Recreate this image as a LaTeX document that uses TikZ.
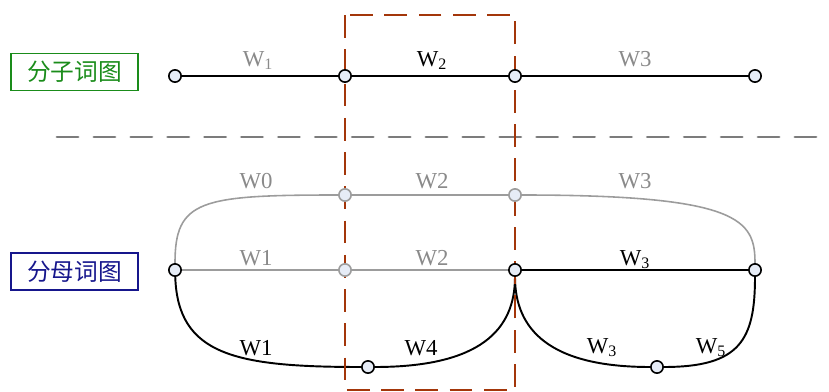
\documentclass[tikz,border=0pt]{standalone}
\usepackage{fontspec}
\setmainfont{Liberation Serif}
\newfontfamily\cjk{Noto Sans CJK SC}
\usetikzlibrary{backgrounds}
\definecolor{wgray}{HTML}{9C9C9C}
\definecolor{wdash}{HTML}{7C7C7C}
\definecolor{wtext}{HTML}{8A8A8A}
\definecolor{wred}{HTML}{A3360A}
\definecolor{wgreen}{HTML}{1A8C1A}
\definecolor{wblue}{HTML}{16168C}
\definecolor{wfill}{HTML}{E6ECF6}

\begin{document}
\begin{tikzpicture}[x=0.02cm, y=-0.02cm, font=\fontsize{13}{15}\selectfont,
      pt/.style={circle, draw=black, fill=wfill, line width=.9pt, inner sep=0pt, minimum size=7pt},
      gpt/.style={pt, draw=wgray},
      ln/.style={line width=1.1pt},
      gln/.style={wgray, line width=.9pt},
      lbl/.style={inner sep=0pt, anchor=base},
      glbl/.style={lbl, text=wtext},
      tag/.style={draw, line width=1pt, inner sep=2pt, minimum width=72pt, minimum height=21pt, font=\cjk\fontsize{13.5}{15}\selectfont}]
      \useasboundingbox (0,0) rectangle (829,392);
      % upper part: molecule graph
      \node[tag, wgreen] (mol) at (74.5,72) {分子词图};
      \foreach \x [count=\i from 0] in {175,345,515,755} \node[pt] (s\i) at (\x,76) {};
      \node[glbl] (ls1) at (258,66) {W\textsubscript{1}};
      \node[lbl]  (ls2) at (432,66) {W\textsubscript{2}};
      \node[glbl] (ls3) at (635,66) {W3};

      % lower part: denominator graph
      \node[tag, wblue] (den) at (74.5,271.5) {分母词图};
      \node[gpt] (a1) at (345,195) {};
      \node[gpt] (a2) at (515,195) {};
      \node[pt]  (m0) at (175,270) {};
      \node[gpt] (m1) at (345,270) {};
      \node[pt]  (m2) at (515,270) {};
      \node[pt]  (m3) at (755,270) {};
      \node[pt]  (b1) at (368,367) {};
      \node[pt]  (b2) at (657,367) {};

      \node[glbl] (la0) at (256,188) {W0};
      \node[glbl] (la1) at (432,188) {W2};
      \node[glbl] (la2) at (635,188) {W3};
      \node[glbl] (lm0) at (256,265) {W1};
      \node[glbl] (lm1) at (432,265) {W2};
      \node[lbl]  (lm2) at (635,265) {W\textsubscript{3}};
      \node[lbl]  (lb0) at (256,355) {W1};
      \node[lbl]  (lb1) at (421,355) {W4};
      \node[lbl]  (lb2) at (602,353) {W\textsubscript{3}};
      \node[lbl]  (lb3) at (711,353) {W\textsubscript{5}};

      \begin{scope}[on background layer]
        \draw[ln] (s0) -- (s1);
        \draw[ln] (s1) -- (s2);
        \draw[ln] (s2) -- (s3);
        \draw[wdash, line width=1.7pt, line cap=round, dash pattern=on 12pt off 9pt] (57,137) -- (829,137);

        \draw[gln] (m0) .. controls (175,200) and (200,195) .. (a1);
        \draw[gln] (a1) -- (a2);
        \draw[gln] (a2) .. controls (740,195) and (755,220) .. (m3);
        \draw[gln] (m0) -- (m1);
        \draw[gln] (m1) -- (m2);
        \draw[ln] (m2) -- (m3);
        \draw[ln] (m0) .. controls (178,355) and (235,367) .. (b1);
        \draw[ln] (b1) .. controls (480,367) and (515,330) .. (m2);
        \draw[ln] (m2) .. controls (515,330) and (550,367) .. (b2);
        \draw[ln] (b2) .. controls (740,367) and (755,340) .. (m3);

        \draw[wred, line width=1.7pt, dash pattern=on 13pt off 6.5pt] (345,15) rectangle (515,390);
      \end{scope}
    \end{tikzpicture}
\end{document}
